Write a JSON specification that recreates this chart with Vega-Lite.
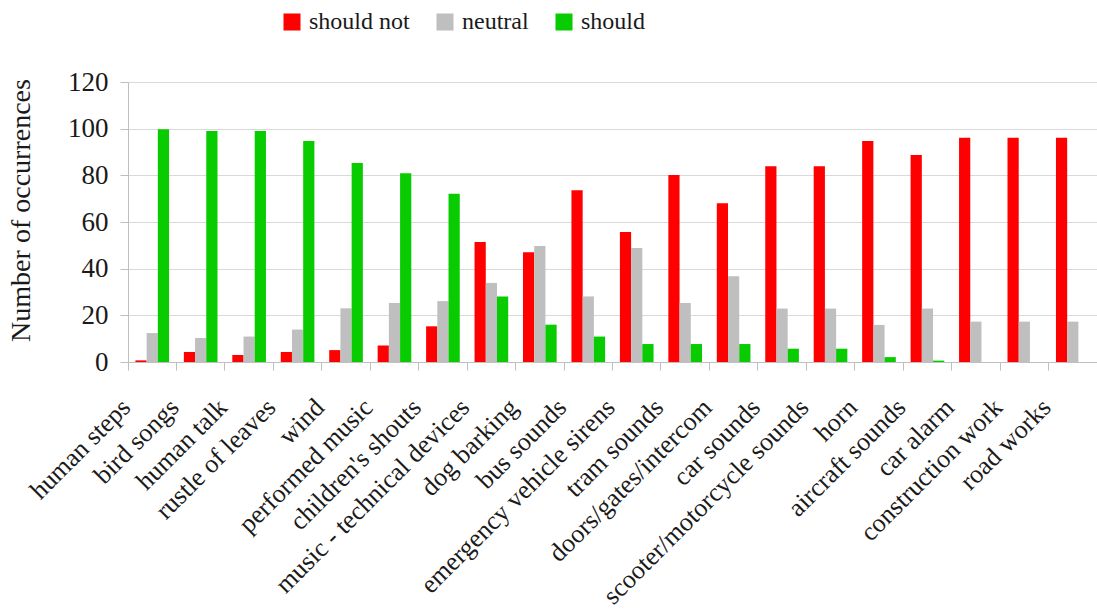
{
  "$schema": "https://vega.github.io/schema/vega-lite/v6.json",
  "width": 969,
  "height": 280,
  "autosize": {"type": "none"},
  "padding": {"left": 128, "top": 82, "right": 0, "bottom": 248},
  "background": "white",
  "data": {
    "values": [
      {"sound": "human steps", "opinion": "should not", "count": 0.7},
      {"sound": "human steps", "opinion": "neutral", "count": 12.4},
      {"sound": "human steps", "opinion": "should", "count": 99.8},
      {"sound": "bird songs", "opinion": "should not", "count": 4.3},
      {"sound": "bird songs", "opinion": "neutral", "count": 10.3},
      {"sound": "bird songs", "opinion": "should", "count": 99.0},
      {"sound": "human talk", "opinion": "should not", "count": 3.0},
      {"sound": "human talk", "opinion": "neutral", "count": 10.9},
      {"sound": "human talk", "opinion": "should", "count": 99.0},
      {"sound": "rustle of leaves", "opinion": "should not", "count": 4.3},
      {"sound": "rustle of leaves", "opinion": "neutral", "count": 13.9},
      {"sound": "rustle of leaves", "opinion": "should", "count": 94.7},
      {"sound": "wind", "opinion": "should not", "count": 5.1},
      {"sound": "wind", "opinion": "neutral", "count": 23.0},
      {"sound": "wind", "opinion": "should", "count": 85.3},
      {"sound": "performed music", "opinion": "should not", "count": 7.1},
      {"sound": "performed music", "opinion": "neutral", "count": 25.3},
      {"sound": "performed music", "opinion": "should", "count": 80.9},
      {"sound": "children's shouts", "opinion": "should not", "count": 15.3},
      {"sound": "children's shouts", "opinion": "neutral", "count": 26.1},
      {"sound": "children's shouts", "opinion": "should", "count": 72.1},
      {"sound": "music - technical devices", "opinion": "should not", "count": 51.4},
      {"sound": "music - technical devices", "opinion": "neutral", "count": 33.9},
      {"sound": "music - technical devices", "opinion": "should", "count": 28.1},
      {"sound": "dog barking", "opinion": "should not", "count": 47.0},
      {"sound": "dog barking", "opinion": "neutral", "count": 49.7},
      {"sound": "dog barking", "opinion": "should", "count": 16.0},
      {"sound": "bus sounds", "opinion": "should not", "count": 73.6},
      {"sound": "bus sounds", "opinion": "neutral", "count": 28.1},
      {"sound": "bus sounds", "opinion": "should", "count": 10.9},
      {"sound": "emergency vehicle sirens", "opinion": "should not", "count": 55.7},
      {"sound": "emergency vehicle sirens", "opinion": "neutral", "count": 48.9},
      {"sound": "emergency vehicle sirens", "opinion": "should", "count": 7.7},
      {"sound": "tram sounds", "opinion": "should not", "count": 80.1},
      {"sound": "tram sounds", "opinion": "neutral", "count": 25.3},
      {"sound": "tram sounds", "opinion": "should", "count": 7.7},
      {"sound": "doors/gates/intercom", "opinion": "should not", "count": 68.0},
      {"sound": "doors/gates/intercom", "opinion": "neutral", "count": 36.7},
      {"sound": "doors/gates/intercom", "opinion": "should", "count": 7.7},
      {"sound": "car sounds", "opinion": "should not", "count": 83.9},
      {"sound": "car sounds", "opinion": "neutral", "count": 22.9},
      {"sound": "car sounds", "opinion": "should", "count": 5.7},
      {"sound": "scooter/motorcycle sounds", "opinion": "should not", "count": 83.9},
      {"sound": "scooter/motorcycle sounds", "opinion": "neutral", "count": 22.9},
      {"sound": "scooter/motorcycle sounds", "opinion": "should", "count": 5.7},
      {"sound": "horn", "opinion": "should not", "count": 94.7},
      {"sound": "horn", "opinion": "neutral", "count": 15.9},
      {"sound": "horn", "opinion": "should", "count": 2.1},
      {"sound": "aircraft sounds", "opinion": "should not", "count": 88.7},
      {"sound": "aircraft sounds", "opinion": "neutral", "count": 22.9},
      {"sound": "aircraft sounds", "opinion": "should", "count": 0.6},
      {"sound": "car alarm", "opinion": "should not", "count": 96.1},
      {"sound": "car alarm", "opinion": "neutral", "count": 17.3},
      {"sound": "car alarm", "opinion": "should", "count": 0},
      {"sound": "construction work", "opinion": "should not", "count": 96.1},
      {"sound": "construction work", "opinion": "neutral", "count": 17.3},
      {"sound": "construction work", "opinion": "should", "count": 0},
      {"sound": "road works", "opinion": "should not", "count": 96.1},
      {"sound": "road works", "opinion": "neutral", "count": 17.3},
      {"sound": "road works", "opinion": "should", "count": 0}
    ]
  },
  "mark": {"type": "bar"},
  "encoding": {
    "x": {
      "field": "sound",
      "type": "nominal",
      "sort": null,
      "scale": {"paddingInner": 0, "paddingOuter": 0},
      "axis": {
        "title": null,
        "bandPosition": 0,
        "domainColor": "#bfbfbf",
        "tickColor": "#bfbfbf",
        "tickSize": 8,
        "labelAngle": -45,
        "labelAlign": "right",
        "labelBaseline": "middle",
        "labelPadding": 33,
        "labelOffset": -26,
        "labelFont": "'Liberation Serif', 'Times New Roman', serif",
        "labelFontSize": 26,
        "labelColor": "#1a1a1a",
        "labelOverlap": false,
        "labelLimit": 0
      }
    },
    "xOffset": {
      "field": "opinion",
      "type": "nominal",
      "scale": {"domain": ["should not", "neutral", "should"], "paddingInner": 0, "paddingOuter": 0.66}
    },
    "y": {
      "field": "count",
      "type": "quantitative",
      "scale": {"domain": [0, 120]},
      "axis": {
        "title": "Number of occurrences",
        "values": [0, 20, 40, 60, 80, 100, 120],
        "domainColor": "#bfbfbf",
        "tickColor": "#bfbfbf",
        "tickSize": 8,
        "gridColor": "#d9d9d9",
        "labelFont": "'Liberation Serif', 'Times New Roman', serif",
        "labelFontSize": 27,
        "labelColor": "#1a1a1a",
        "labelPadding": 12,
        "titleFont": "'Liberation Serif', 'Times New Roman', serif",
        "titleFontSize": 28,
        "titleFontWeight": "normal",
        "titleColor": "#1a1a1a",
        "titlePadding": 32,
        "titleY": 128
      }
    },
    "color": {
      "field": "opinion",
      "type": "nominal",
      "scale": {"domain": ["should not", "neutral", "should"], "range": ["#ff0000", "#bfbfbf", "#08cc00"]},
      "legend": {
        "title": null,
        "orient": "none",
        "direction": "horizontal",
        "legendX": 152,
        "legendY": -72,
        "symbolType": "square",
        "symbolSize": 290,
        "symbolStrokeWidth": 0,
        "symbolOpacity": 1,
        "labelFont": "'Liberation Serif', 'Times New Roman', serif",
        "labelFontSize": 24,
        "labelColor": "#1a1a1a",
        "labelOffset": 5,
        "columnPadding": 23
      }
    }
  },
  "config": {
    "font": "'Liberation Serif', 'Times New Roman', serif",
    "view": {"stroke": null}
  }
}
